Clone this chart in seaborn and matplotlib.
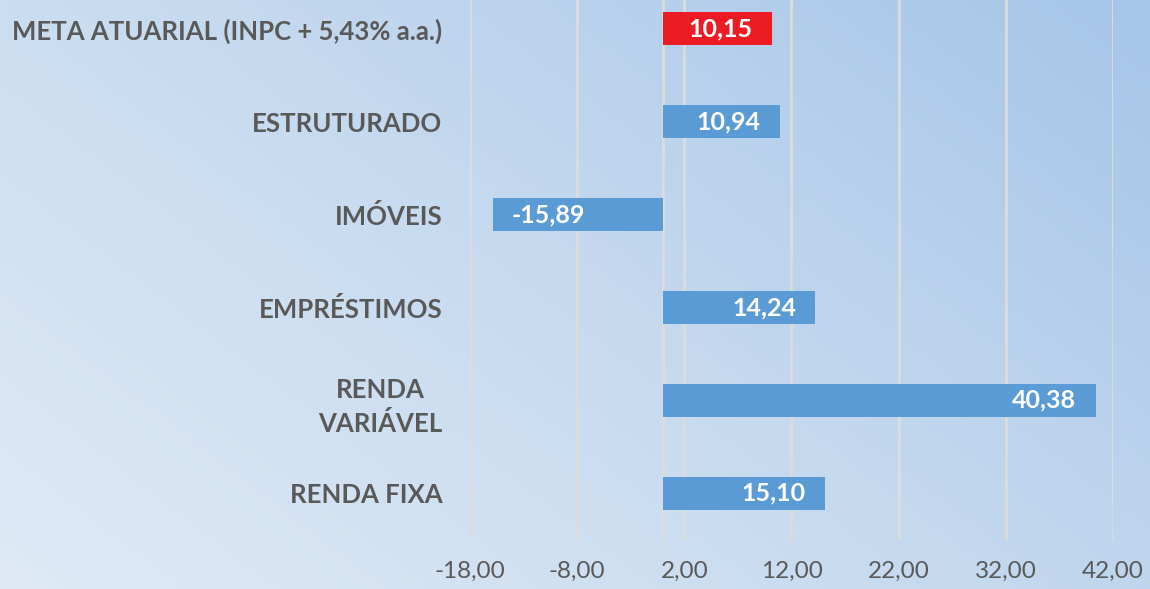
import numpy as np
import pandas as pd
import matplotlib
matplotlib.use("Agg")
import matplotlib.pyplot as plt
import seaborn as sns
from matplotlib.colors import LinearSegmentedColormap

# chart data (top to bottom)
categorias = ["META ATUARIAL (INPC + 5,43% a.a.)", "ESTRUTURADO", "IMÓVEIS",
              "EMPRÉSTIMOS", "RENDA\nVARIÁVEL", "RENDA FIXA"]
rentabilidade = [10.15, 10.94, -15.89, 14.24, 40.38, 15.10]
tipo = ["meta", "segmento", "segmento", "segmento", "segmento", "segmento"]
x_ticks = [-18, -8, 2, 12, 22, 32, 42]

cores = {"meta": "#ED1C24", "segmento": "#5B9BD5"}
df = pd.DataFrame({"cat": categorias, "val": rentabilidade, "tipo": tipo})

sns.set_theme(style="white")
plt.rcParams["font.family"] = ["Lato", "DejaVu Sans"]

fig = plt.figure(figsize=(11.5, 5.89), dpi=100)

# background gradient (light bottom-left -> darker blue top-right)
bg = fig.add_axes([0, 0, 1, 1], zorder=-10)
gx, gy = np.meshgrid(np.linspace(0, 1, 300), np.linspace(0, 1, 150))
grad = (gx * 0.6 + (1 - gy) * 0.4)
cmap_bg = LinearSegmentedColormap.from_list("bg", ["#dfeaf6", "#c6daef", "#a6c5e8"])
bg.imshow(grad, cmap=cmap_bg, aspect="auto", extent=[0, 1, 0, 1], origin="upper")
bg.axis("off")

ax = fig.add_axes([0.4087, 0.084, 0.5591, 0.9457])
ax.patch.set_alpha(0)
sns.barplot(data=df, x="val", y="cat", hue="tipo", palette=cores, orient="h",
            width=0.355, dodge=False, legend=False, ax=ax, saturation=1,
            linewidth=0)

ax.set_xlim(-18, 42)
ax.set_ylim(5.5, -0.5)
ax.set_xticks(x_ticks)
ax.set_xticklabels([f"{t:.2f}".replace(".", ",") for t in x_ticks])
ax.xaxis.grid(True, color="#dcdcdc", linewidth=2)
ax.axvline(0, color="#dcdcdc", linewidth=2, zorder=0)
ax.set_axisbelow(True)
for s in ax.spines.values():
    s.set_visible(False)
ax.set_xlabel("")
ax.set_ylabel("")
ax.tick_params(axis="x", length=0, pad=15, labelsize=17.5, labelcolor="#595959")
ax.tick_params(axis="y", length=0, pad=20, labelsize=18.5, labelcolor="#595959")
for lbl in ax.get_yticklabels():
    lbl.set_fontweight("bold")
    lbl.set_multialignment("center")
    lbl.set_linespacing(1.45)

for i, v in enumerate(rentabilidade):
    off = -14 if v >= 0 else 14
    ax.annotate(f"{v:.2f}".replace(".", ","), (v, i), xytext=(off, 0),
                textcoords="offset points", ha="right" if v >= 0 else "left",
                va="center", color="white", fontsize=18, fontweight="bold")

fig.savefig("out.png", dpi=100)
